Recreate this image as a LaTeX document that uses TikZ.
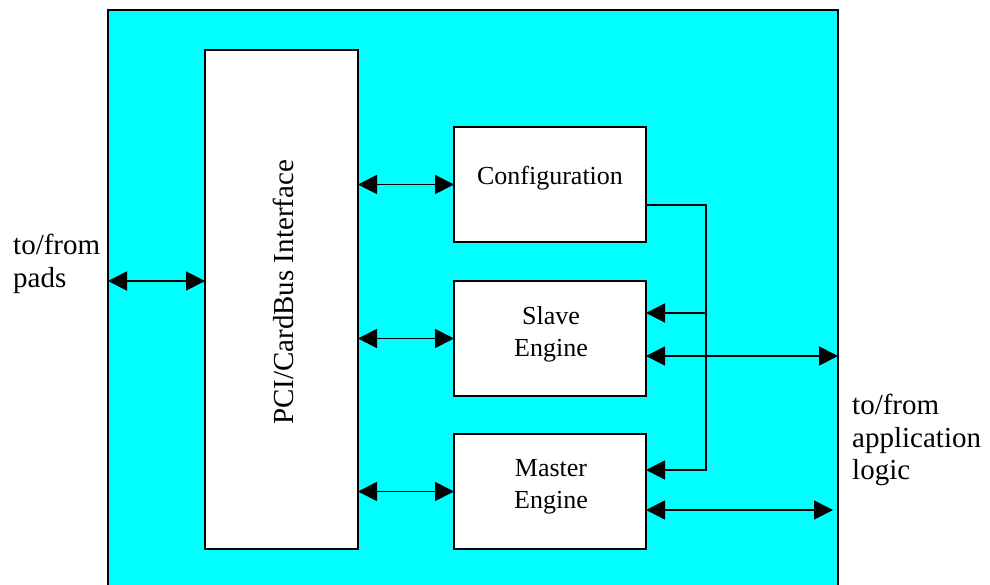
\documentclass[tikz,border=0pt]{standalone}
\usepackage{fontspec}
\setmainfont{Liberation Serif}
\usetikzlibrary{arrows.meta}
\definecolor{chipcyan}{RGB}{0,255,255}
\begin{document}
\begin{tikzpicture}[x=1pt,y=-1pt,
  chipbox/.style={draw=black, fill=chipcyan, line width=1.8pt, inner sep=0pt, outer sep=0pt, anchor=north west},
  blockbox/.style={draw=black, fill=white, line width=1.5pt, inner sep=0pt, outer sep=0pt, anchor=north west},
  bigtext/.style={font=\fontsize{29}{32.5}\selectfont, inner sep=0pt, align=left},
  smalltext/.style={font=\fontsize{26}{32}\selectfont, inner sep=0pt, align=center},
  wire/.style={line width=1.8pt},
  dbl/.style={wire, {Triangle[length=19pt,width=19pt]}-{Triangle[length=19pt,width=19pt]}},
  sgl/.style={wire, -{Triangle[length=19pt,width=19pt]}}]
\useasboundingbox (0,0) rectangle (990,585);
\fill[white] (0,0) rectangle (990,585);
% chip
\node[chipbox, minimum width=730pt, minimum height=620pt] (chip) at (108,10) {};
% blocks
\node[blockbox, minimum width=153pt, minimum height=499pt] (pci) at (205,50) {};
\node[blockbox, minimum width=192pt, minimum height=115pt] (cfg) at (454,127) {};
\node[blockbox, minimum width=192pt, minimum height=115pt] (slave) at (454,281) {};
\node[blockbox, minimum width=192pt, minimum height=115pt] (master) at (454,434) {};
% texts
\node[bigtext, rotate=90, anchor=base] (pcitxt) at (293,292.5) {PCI/CardBus Interface};
\node[smalltext, anchor=base] (cfgtxt) at (550,184.3) {Configuration};
\node[smalltext, anchor=north] (slavetxt) at (551,306.5) {Slave\\Engine};
\node[smalltext, anchor=north] (mastertxt) at (551,459.5) {Master\\Engine};
\node[bigtext, anchor=north west] (padstxt) at (13,234.2) {to/from\\pads};
\node[bigtext, anchor=north west] (apptxt) at (852,394.2) {to/from\\application\\logic};
% connectors
\coordinate (padsL) at (108,281);
\draw[dbl] (padsL) -- (padsL -| pci.west);
\draw[dbl] (pci.east |- cfg.west) -- (cfg.west);
\draw[dbl] (pci.east |- slave.west) -- (slave.west);
\draw[dbl] (pci.east |- master.west) -- (master.west);
\coordinate (bus) at (706,205);
\draw[sgl] (cfg.east |- bus) -- (bus) |- (master.east |- 0,470);
\draw[sgl] (bus |- 0,313) -- (slave.east |- 0,313);
\draw[dbl] (slave.east |- 0,356) -- (chip.east |- 0,356);
\coordinate (mOut) at (833,510);
\draw[dbl] (master.east |- mOut) -- (mOut);
\end{tikzpicture}
\end{document}
